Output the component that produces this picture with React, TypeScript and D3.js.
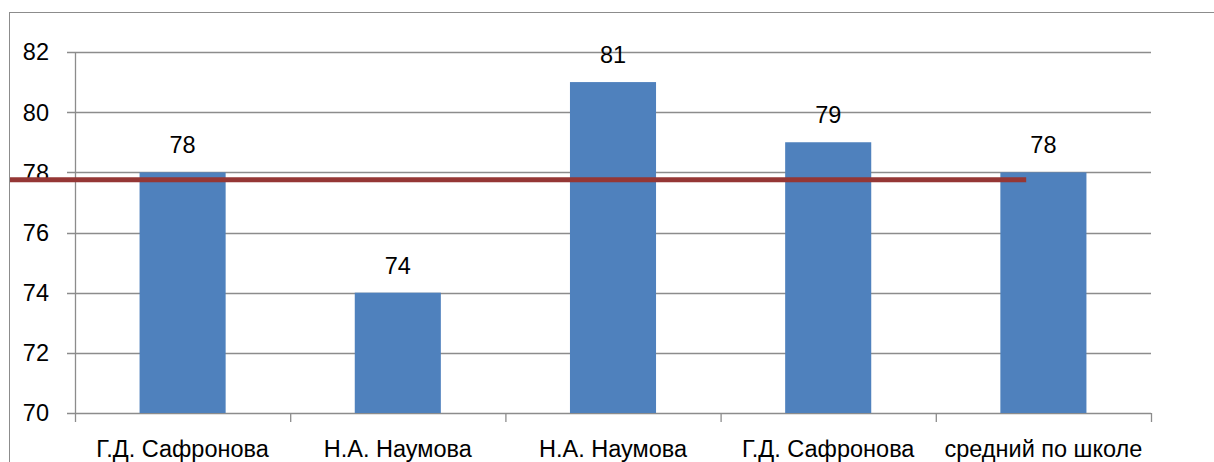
import React from 'react';
import * as d3 from 'd3';

// chart data
const categories = ['Г.Д. Сафронова', 'Н.А. Наумова', 'Н.А. Наумова', 'Г.Д. Сафронова', 'средний по школе'];
const scores = [78, 74, 81, 79, 78];
const yTicks = [70, 72, 74, 76, 78, 80, 82];
const referenceLevel = [77.75];

const W = 1214;
const H = 462;
const margin = { top: 52, right: 63, bottom: 49, left: 75 };

const App: React.FC = () => {
    const innerW = W - margin.left - margin.right;
    const innerH = H - margin.top - margin.bottom;

    const x = d3.scaleBand<number>()
        .domain(d3.range(categories.length))
        .range([margin.left, margin.left + innerW])
        .paddingInner(0)
        .paddingOuter(0);

    const y = d3.scaleLinear()
        .domain([70, 82])
        .range([margin.top + innerH, margin.top]);

    const bw = x.bandwidth();
    const barW = bw * 0.4;
    const font = '"Liberation Sans", Arial, sans-serif';
    const fs = 23.5;
    const grid = '#8c8c8c';

    const lastIdx = categories.length - 1;
    const refX1 = (x(lastIdx) || 0) + bw * 0.42;

    return (
        <svg width={W} height={H} style={{ position: 'absolute', left: 0, top: 0, background: '#fff' }}>
            {/* outer frame */}
            <rect x={9.5} y={12.5} width={W + 20} height={H + 20} fill="none" stroke={grid} strokeWidth={1} />

            {/* horizontal gridlines + y ticks */}
            {yTicks.map(t => (
                <g key={t}>
                    <line x1={margin.left - 8} x2={margin.left + innerW} y1={Math.round(y(t)) + 0.5} y2={Math.round(y(t)) + 0.5}
                        stroke={grid} strokeWidth={1.3} />
                    <text x={49} y={y(t)} dy="0.36em" textAnchor="end" fontFamily={font} fontSize={fs} fill="#000">
                        {t}
                    </text>
                </g>
            ))}

            {/* y axis line */}
            <line x1={margin.left + 0.5} x2={margin.left + 0.5} y1={margin.top} y2={margin.top + innerH}
                stroke={grid} strokeWidth={1.3} />

            {/* category ticks */}
            {d3.range(categories.length + 1).map(i => {
                const xx = margin.left + i * bw;
                return (
                    <line key={i} x1={xx + 0.5} x2={xx + 0.5} y1={margin.top + innerH} y2={margin.top + innerH + 9}
                        stroke={grid} strokeWidth={1.3} />
                );
            })}

            {/* bars */}
            {scores.map((v, i) => {
                const cx = (x(i) || 0) + bw / 2;
                return (
                    <g key={i}>
                        <rect x={cx - barW / 2} y={y(v)} width={barW} height={y(70) - y(v)} fill="#4f81bd" />
                        <text x={cx} y={y(v) - 19} textAnchor="middle" fontFamily={font} fontSize={fs} fill="#000">
                            {v}
                        </text>
                    </g>
                );
            })}

            {/* reference line */}
            {referenceLevel.map((r, i) => (
                <line key={i} x1={10} x2={refX1} y1={y(r)} y2={y(r)} stroke="#953735" strokeWidth={5} />
            ))}

            {/* category labels */}
            {categories.map((c, i) => (
                <text key={i} x={(x(i) || 0) + bw / 2} y={457} textAnchor="middle" fontFamily={font} fontSize={fs} fill="#000">
                    {c}
                </text>
            ))}
        </svg>
    );
};

export default App;
